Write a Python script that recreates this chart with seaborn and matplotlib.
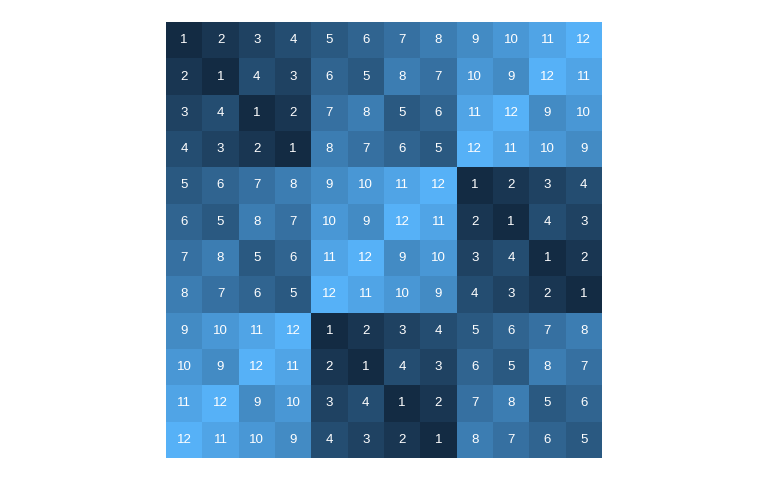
import numpy as np
import pandas as pd
import seaborn as sns
import matplotlib
matplotlib.use("Agg")
import matplotlib.pyplot as plt
from matplotlib.colors import LinearSegmentedColormap

row0 = [1, 2, 3, 4, 5, 6, 7, 8, 9, 10, 11, 12]
row1 = [2, 1, 4, 3, 6, 5, 8, 7, 10, 9, 12, 11]
row2 = [3, 4, 1, 2, 7, 8, 5, 6, 11, 12, 9, 10]
row3 = [4, 3, 2, 1, 8, 7, 6, 5, 12, 11, 10, 9]
row4 = [5, 6, 7, 8, 9, 10, 11, 12, 1, 2, 3, 4]
row5 = [6, 5, 8, 7, 10, 9, 12, 11, 2, 1, 4, 3]
row6 = [7, 8, 5, 6, 11, 12, 9, 10, 3, 4, 1, 2]
row7 = [8, 7, 6, 5, 12, 11, 10, 9, 4, 3, 2, 1]
row8 = [9, 10, 11, 12, 1, 2, 3, 4, 5, 6, 7, 8]
row9 = [10, 9, 12, 11, 2, 1, 4, 3, 6, 5, 8, 7]
row10 = [11, 12, 9, 10, 3, 4, 1, 2, 7, 8, 5, 6]
row11 = [12, 11, 10, 9, 4, 3, 2, 1, 8, 7, 6, 5]

data = pd.DataFrame([row0, row1, row2, row3, row4, row5,
                     row6, row7, row8, row9, row10, row11])

# ggplot-like blue gradient (Lab-ish midpoint)
cmap = LinearSegmentedColormap.from_list("gg", ["#132B43", "#336A98", "#56B1F7"])

plt.rcParams['font.family'] = ['Liberation Sans', 'DejaVu Sans']
fig = plt.figure(figsize=(7.68, 4.8), dpi=100)
ax = fig.add_axes([166 / 768, 22 / 480, 436 / 768, 436 / 480])
sns.heatmap(data, cmap=cmap, annot=True, fmt="d", cbar=False,
            annot_kws={'color': 'white', 'size': 9.5},
            xticklabels=False, yticklabels=False, ax=ax)
ax.set_xlabel("")
ax.set_ylabel("")
fig.savefig("out.png", dpi=100)
